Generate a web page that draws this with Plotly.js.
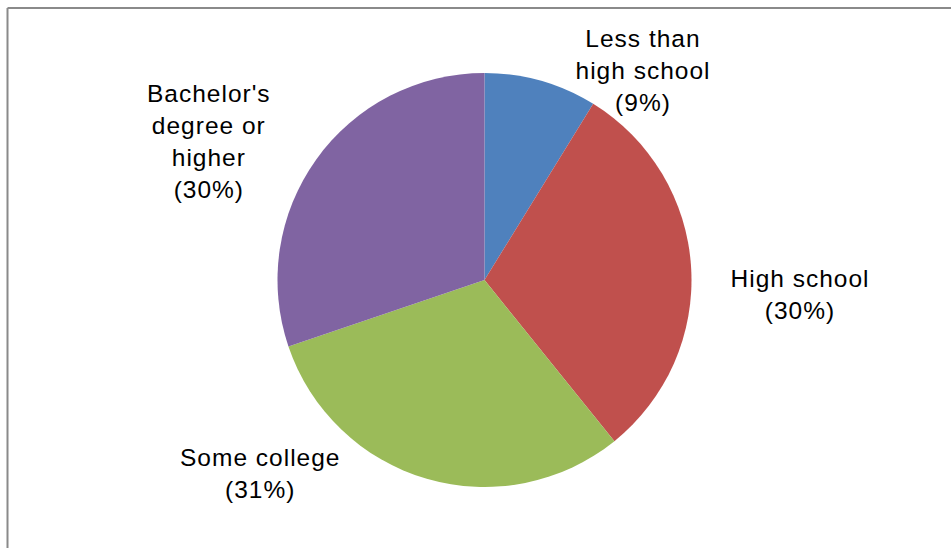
<!DOCTYPE html>
<html>
<head>
<meta charset="utf-8">
<script src="https://cdn.plot.ly/plotly-3.0.1.min.js"></script>
<style>
html,body{margin:0;padding:0;background:#fff;}
#chart{width:951px;height:548px;}
#chart .annotation-text{letter-spacing:1px;}
</style>
</head>
<body>
<div id="chart"></div>
<script>
// Data
const categories = ["Less than<br>high school", "High school", "Some college", "Bachelor's<br>degree or<br>higher"];
const values = [8.8, 30.4, 30.6, 30.2];
const colors = ["#4F81BD", "#C0504D", "#9BBB59", "#8064A2"];

const W = 951, H = 548;
const cx = 484.5, cy = 280, r = 207;

// label centres in pixels
const labelPos = [[643, 71], [800, 294], [260, 473], [209, 141]];

const total = values.reduce((a, b) => a + b, 0);
const annotations = categories.map((c, i) => ({
  text: c + "<br>(" + Math.round(values[i] / total * 100) + "%)",
  xref: "paper", yref: "paper",
  x: labelPos[i][0] / W, y: 1 - labelPos[i][1] / H,
  xanchor: "center", yanchor: "middle",
  showarrow: false,
  align: "center",
  font: {family: "Liberation Sans, Arial, sans-serif", size: 24.5, color: "#000"}
}));

const trace = {
  type: "pie",
  labels: categories,
  values: values,
  sort: false,
  direction: "clockwise",
  rotation: 0,
  marker: {colors: colors, line: {width: 0}},
  textinfo: "none",
  hoverinfo: "label+percent",
  showlegend: false,
  domain: {x: [(cx - r) / W, (cx + r) / W], y: [(H - cy - r) / H, (H - cy + r) / H]}
};

const layout = {
  width: W, height: H,
  margin: {l: 0, r: 0, t: 0, b: 0},
  paper_bgcolor: "#fff",
  showlegend: false,
  annotations: annotations,
  shapes: [
    {type: "line", xref: "paper", yref: "paper", x0: 7.5 / W, x1: 1.01, y0: 1 - 8 / H, y1: 1 - 8 / H, line: {color: "#8a8a8a", width: 2}},
    {type: "line", xref: "paper", yref: "paper", x0: 7.5 / W, x1: 7.5 / W, y0: 1 - 8 / H, y1: -0.01, line: {color: "#8a8a8a", width: 2}}
  ]
};

Plotly.newPlot("chart", [trace], layout, {displayModeBar: false, staticPlot: true});
</script>
</body>
</html>
